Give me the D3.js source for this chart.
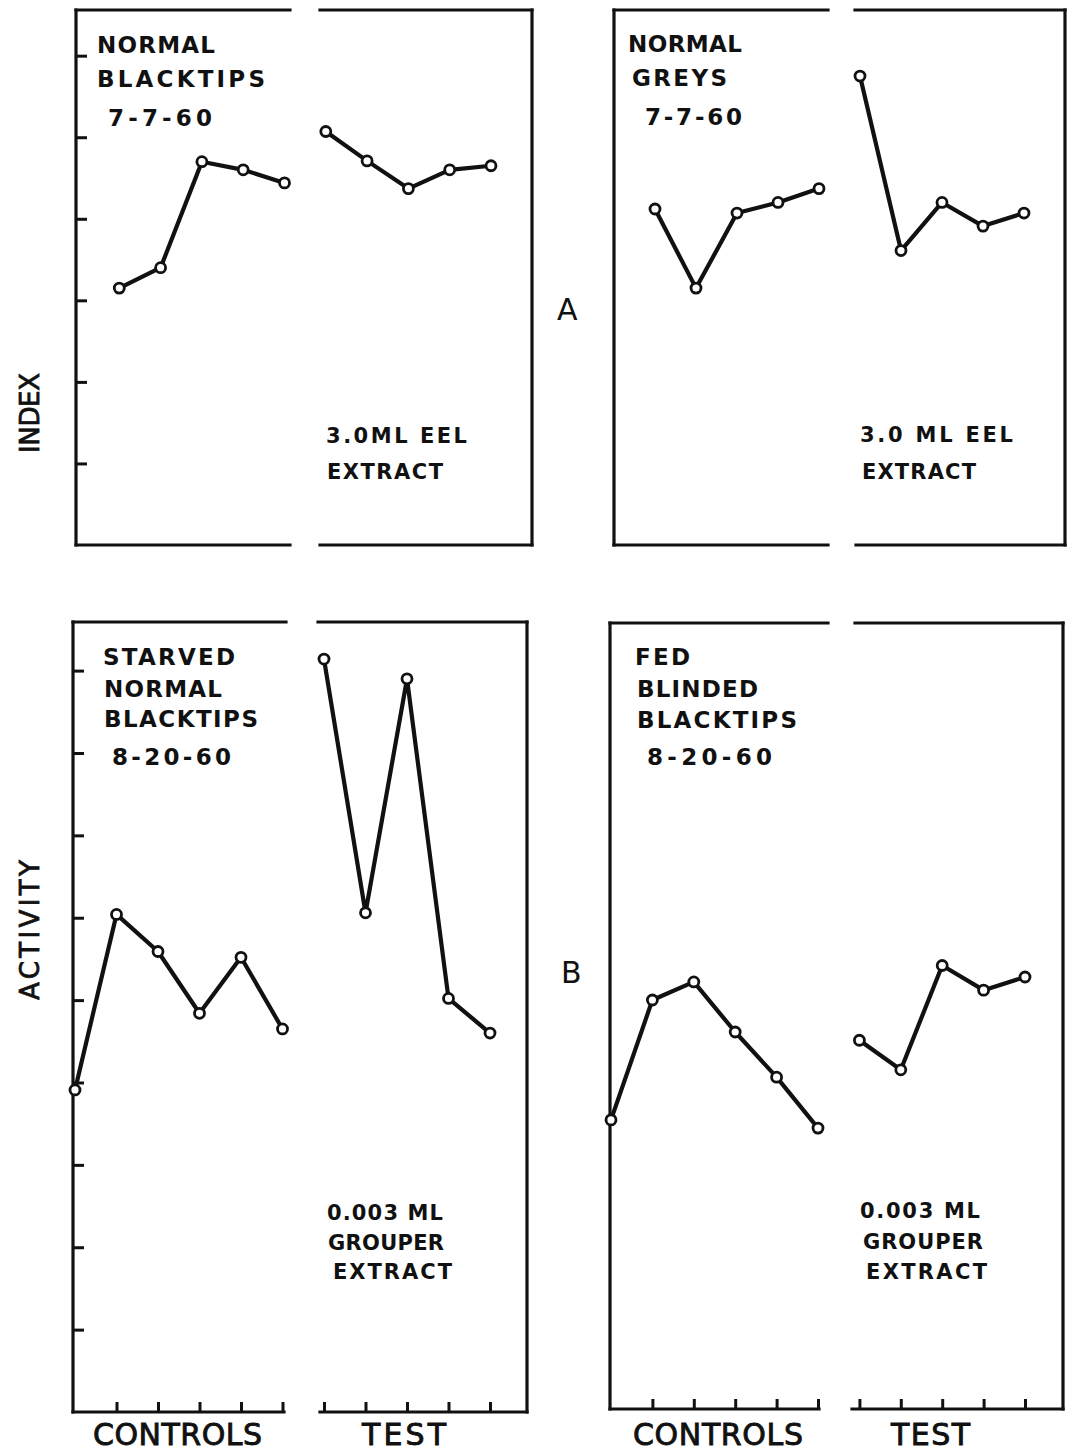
<!DOCTYPE html>
<html><head><meta charset="utf-8">
<script src="https://cdn.jsdelivr.net/npm/d3@7/dist/d3.min.js"></script>
<style>body{margin:0;background:#fff}svg{display:block}</style>
</head><body>
<svg id="c" width="1073" height="1452"></svg>
<script>
// ---------- DATA ----------
const ctrlIdxA = [1, 2, 3, 4, 5];
const ctrlIdxB = [0, 1, 2, 3, 4, 5];
const testIdx  = [6, 7, 8, 9, 10];

const blacktipsControls = [3.15, 3.40, 4.70, 4.60, 4.44];
const blacktipsTest     = [5.07, 4.71, 4.37, 4.60, 4.65];
const greysControls     = [4.12, 3.15, 4.07, 4.20, 4.37];
const greysTest         = [5.75, 3.61, 4.20, 3.91, 4.07];
const starvedControls   = [3.91, 6.04, 5.59, 4.84, 5.52, 4.65];
const starvedTest       = [9.14, 6.06, 8.90, 5.02, 4.60];
const fedControls       = [3.52, 4.98, 5.20, 4.59, 4.04, 3.42];
const fedTest           = [4.49, 4.13, 5.40, 5.10, 5.26];

const yTicksA = [1, 2, 3, 4, 5, 6];
const yTicksB = [1, 2, 3, 4, 5, 6, 7, 8, 9];
const xTicks  = [1, 2, 3, 4, 5, 6, 7, 8, 9, 10];

const titleBlacktips = ["NORMAL", "BLACKTIPS", "7-7-60"];
const titleGreys     = ["NORMAL", "GREYS", "7-7-60"];
const titleStarved   = ["STARVED", "NORMAL", "BLACKTIPS", "8-20-60"];
const titleFed       = ["FED", "BLINDED", "BLACKTIPS", "8-20-60"];
const noteEel        = ["3.0ML EEL", "EXTRACT"];
const noteEel2       = ["3.0 ML EEL", "EXTRACT"];
const noteGrouper    = ["0.003 ML", "GROUPER", "EXTRACT"];
const xAxisLabels    = ["CONTROLS", "TEST"];
const yAxisLabels    = ["INDEX", "ACTIVITY"];
const rowLetters     = ["A", "B"];

// ---------- LAYOUT ----------
const svg = d3.select("#c");
const FONT = "DejaVu Sans";

const panels = [
  { xL: 76, xR: 532, x0: 78, step: 41.3, top: 10, bottom: 545, ymax: 6.56, yTicks: yTicksA, xt: false,
    series: [[ctrlIdxA, blacktipsControls], [testIdx, blacktipsTest]],
    gapTop: [290, 320], gapBot: [290, 320],
    title: titleBlacktips, titlePos: [[97, 45, 118], [97, 79, 168], [108, 118, 104]],
    note: noteEel, notePos: [[326, 435, 141], [327, 471, 116]] },
  { xL: 614, xR: 1065, x0: 614, step: 41, top: 10, bottom: 545, ymax: 6.56, yTicks: null, xt: false,
    series: [[ctrlIdxA, greysControls], [testIdx, greysTest]],
    gapTop: [828, 855], gapBot: [828, 856],
    title: titleGreys, titlePos: [[628, 44, 114], [632, 78, 95], [645, 117, 97]],
    note: noteEel2, notePos: [[860, 434, 153], [862, 471, 114]] },
  { xL: 73, xR: 527, x0: 75, step: 41.5, top: 622, bottom: 1412, ymax: 9.59, yTicks: yTicksB, xt: true,
    series: [[ctrlIdxB, starvedControls], [testIdx, starvedTest]],
    gapTop: [286, 318], gapBot: [284, 320],
    title: titleStarved, titlePos: [[103, 657, 132], [104, 689, 118], [104, 719, 154], [112, 757, 119]],
    note: noteGrouper, notePos: [[327, 1212, 116], [328, 1242, 116], [333, 1271, 119]] },
  { xL: 610, xR: 1063, x0: 611, step: 41.4, top: 623, bottom: 1409, ymax: 9.57, yTicks: null, xt: true,
    series: [[ctrlIdxB, fedControls], [testIdx, fedTest]],
    gapTop: [828, 855], gapBot: [819, 852],
    title: titleFed, titlePos: [[635, 657, 55], [637, 689, 121], [637, 720, 160], [647, 757, 125]],
    note: noteGrouper, notePos: [[860, 1210, 120], [863, 1241, 120], [866, 1271, 121]] }
];

function addText(g, str, x, cy, size, len, weight, sw) {
  const t = g.append("text")
    .attr("x", x).attr("y", cy + 0.365 * size)
    .attr("font-family", FONT).attr("font-size", size)
    .attr("font-weight", weight).attr("fill", "#111")
    .text(str);
  if (len) t.attr("textLength", len).attr("lengthAdjust", "spacing");
  if (sw) t.attr("stroke", "#111").attr("stroke-width", sw);
  return t;
}

panels.forEach(p => {
  const x = d3.scaleLinear().domain([0, 10]).range([p.x0, p.x0 + 10 * p.step]);
  const y = d3.scaleLinear().domain([0, p.ymax]).range([p.bottom, p.top]);
  const g = svg.append("g");
  const stroke = "#111";

  // frame
  const seg = (a, b, c, d) => g.append("line").attr("x1", a).attr("y1", b).attr("x2", c).attr("y2", d)
      .attr("stroke", stroke).attr("stroke-width", 3.2).attr("stroke-linecap", "square");
  seg(p.xL, p.top, p.xL, p.bottom);
  seg(p.xR, p.top, p.xR, p.bottom);
  seg(p.xL, p.top, p.gapTop[0], p.top);
  seg(p.gapTop[1], p.top, p.xR, p.top);
  seg(p.xL, p.bottom, p.gapBot[0], p.bottom);
  seg(p.gapBot[1], p.bottom, p.xR, p.bottom);

  // y ticks
  if (p.yTicks) {
    const ay = g.append("g").attr("transform", `translate(${p.xL},0)`)
      .call(d3.axisRight(y).tickValues(p.yTicks).tickSize(11).tickFormat(""));
    ay.select(".domain").remove();
    ay.selectAll("line").attr("stroke", stroke).attr("stroke-width", 3);
  }
  // x ticks
  if (p.xt) {
    const ax = g.append("g").attr("transform", `translate(0,${p.bottom})`)
      .call(d3.axisTop(x).tickValues(xTicks).tickSize(10).tickFormat(""));
    ax.select(".domain").remove();
    ax.selectAll("line").attr("stroke", stroke).attr("stroke-width", 3);
  }

  // series
  const line = d3.line().x(d => x(d[0])).y(d => y(d[1]));
  p.series.forEach(([xs, vs]) => {
    const pts = xs.map((xi, i) => [xi, vs[i]]);
    g.append("path").attr("d", line(pts)).attr("fill", "none")
      .attr("stroke", stroke).attr("stroke-width", 4.2).attr("stroke-linejoin", "round");
    g.selectAll(null).data(pts).enter().append("circle")
      .attr("cx", d => x(d[0])).attr("cy", d => y(d[1])).attr("r", 5)
      .attr("fill", "#fff").attr("stroke", stroke).attr("stroke-width", 2.8);
  });

  // annotations
  p.title.forEach((s, i) => addText(g, s, p.titlePos[i][0], p.titlePos[i][1], 23, p.titlePos[i][2], "bold"));
  p.note.forEach((s, i) => addText(g, s, p.notePos[i][0], p.notePos[i][1], 21, p.notePos[i][2], "bold"));
});

// x axis labels
const lab = svg.append("g");
addText(lab, xAxisLabels[0], 93, 1434, 30, 169, "normal", 0.9);
addText(lab, xAxisLabels[1], 362, 1434, 30, 84, "normal", 0.9);
addText(lab, xAxisLabels[0], 633, 1434, 30, 170, "normal", 0.9);
addText(lab, xAxisLabels[1], 891, 1434, 30, 79, "normal", 0.9);

// row letters
addText(lab, rowLetters[0], 557, 309, 30, null, "normal");
addText(lab, rowLetters[1], 561, 972, 30, null, "normal");

// y axis labels (rotated)
[[yAxisLabels[0], 413, 80], [yAxisLabels[1], 930, 140]].forEach(([s, cy, len]) => {
  lab.append("text")
    .attr("transform", `translate(${30 + 0.365 * 26},${cy}) rotate(-90)`)
    .attr("x", -len / 2).attr("y", 0)
    .attr("font-family", FONT).attr("font-size", 26).attr("fill", "#111")
    .attr("stroke", "#111").attr("stroke-width", 0.8)
    .attr("textLength", len).attr("lengthAdjust", "spacing")
    .text(s);
});
</script>
</body></html>
